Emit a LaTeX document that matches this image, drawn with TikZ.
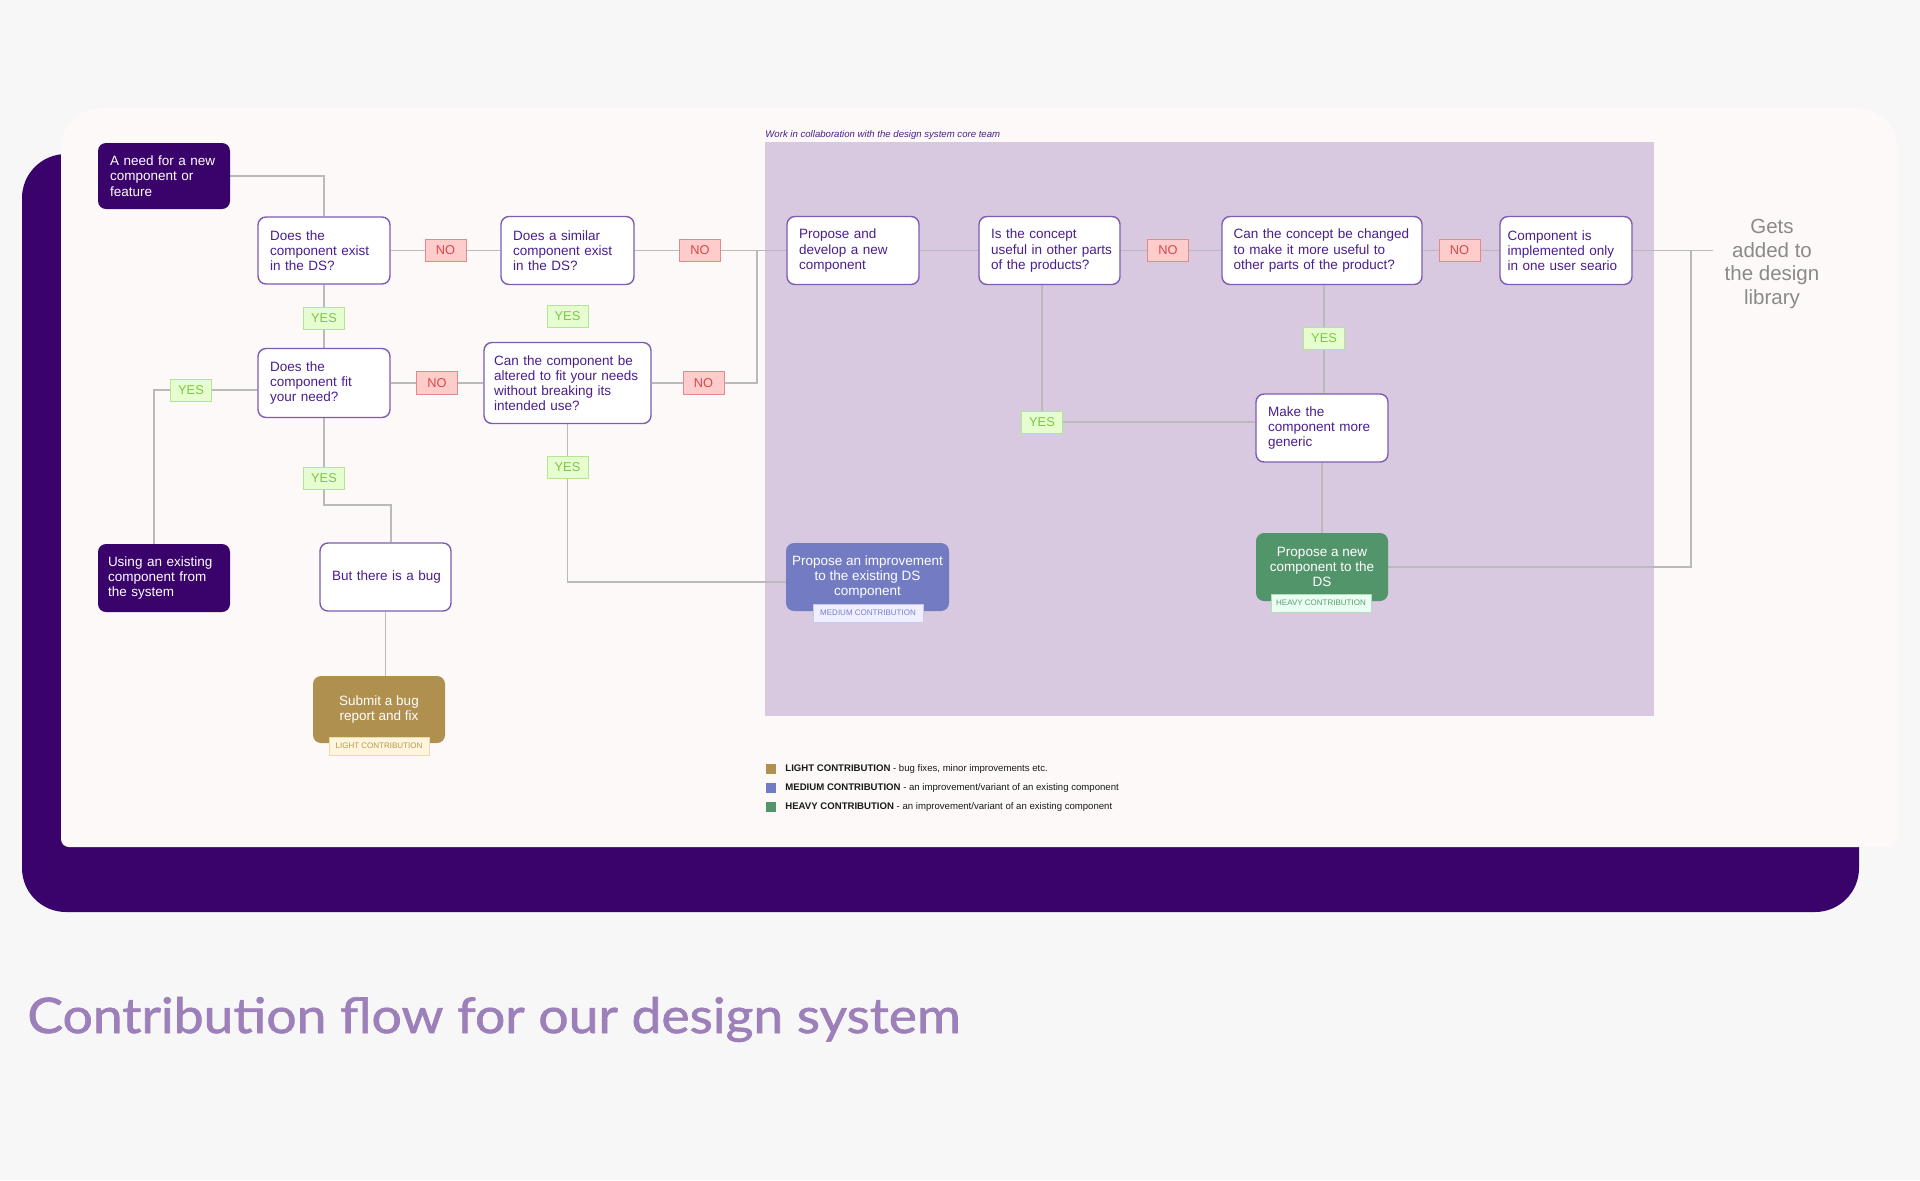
\documentclass[tikz,border=0pt]{standalone}
\usepackage{fontspec}
\setmainfont{Liberation Sans}
\newfontfamily\latofont[FakeBold=1.4,FakeStretch=1.09]{Lato}
\pgfdeclarelayer{bg}
\pgfsetlayers{bg,main}
\definecolor{bgc}{HTML}{F7F7F7}
\definecolor{cardc}{HTML}{FDF9F8}
\definecolor{dpurple}{HTML}{3A036C}
\definecolor{regc}{HTML}{D8C9E0}
\definecolor{boxbd}{HTML}{7D5CB3}
\definecolor{boxtx}{HTML}{4A1E8C}
\definecolor{linec}{HTML}{BABABA}
\definecolor{nofill}{HTML}{FFCCCC}
\definecolor{nobd}{HTML}{E28A8A}
\definecolor{notx}{HTML}{D84848}
\definecolor{yesfill}{HTML}{E6FDD0}
\definecolor{yesbd}{HTML}{B4E592}
\definecolor{yestx}{HTML}{7CC645}
\definecolor{goldc}{HTML}{B0904F}
\definecolor{medc}{HTML}{737CC3}
\definecolor{heavyc}{HTML}{53956B}
\definecolor{getsc}{HTML}{8A8A8A}
\definecolor{titlec}{HTML}{9D80BA}
\definecolor{legc}{HTML}{1A1A1A}
\definecolor{tag1f}{HTML}{FFF5DD}
\definecolor{tag1d}{HTML}{EADBA8}
\definecolor{tag1t}{HTML}{B59650}
\definecolor{tag2f}{HTML}{EFEFFF}
\definecolor{tag2d}{HTML}{C5C9F0}
\definecolor{tag2t}{HTML}{7880C8}
\definecolor{tag3f}{HTML}{EAFFF1}
\definecolor{tag3d}{HTML}{B3DDC0}
\definecolor{tag3t}{HTML}{5B9C72}
\newcommand\boxfont{\fontsize{6.75pt}{7.6pt}\selectfont}
\newcommand\lblfont{\fontsize{6.4pt}{7pt}\selectfont}
\newcommand\tagfont{\fontsize{4pt}{4.5pt}\selectfont}
\newcommand\legfont{\fontsize{4.8pt}{5.3pt}\selectfont}
\newcommand\getsfont{\fontsize{10.25pt}{11.75pt}\selectfont}
\newcommand\titlefont{\latofont\fontsize{24.5pt}{28pt}\selectfont}
\newcommand\bxl[1]{\mbox{#1}}
\begin{document}
\begin{tikzpicture}[x=0.5pt,y=-0.5pt,
  conn/.style={draw=linec,line width=0.8pt},
  qbox/.style={draw=boxbd,fill=white,line width=0.7pt,rounded corners=4pt,text=boxtx,align=left,font=\boxfont,inner xsep=6pt,inner ysep=0pt},
  darkbox/.style={fill=dpurple,rounded corners=4pt,text=white,align=left,font=\boxfont,inner xsep=6pt,inner ysep=0pt},
  nolab/.style={draw=nobd,fill=nofill,text=notx,font=\lblfont,minimum width=20.5pt,minimum height=11.25pt,inner sep=0pt,line width=0.5pt},
  yeslab/.style={draw=yesbd,fill=yesfill,text=yestx,font=\lblfont,minimum width=20.5pt,minimum height=11pt,inner sep=0pt,line width=0.5pt},
  actbox/.style={rounded corners=4pt,text=white,align=center,font=\boxfont,inner sep=0pt},
  tagbox/.style={font=\tagfont,inner sep=0pt,minimum height=9pt,line width=0.4pt},
  legsq/.style={minimum size=5pt,inner sep=0pt},
  legtxt/.style={anchor=west,inner sep=0pt,font=\legfont,text=legc},
]
\begin{pgfonlayer}{bg}
\fill[bgc] (0,0) rectangle (1920,1180);
\fill[dpurple,rounded corners=22pt] (22,154) rectangle (1859,912);
\fill[cardc] (61,480) [rounded corners=20pt] -- (61,108) -- (1897,108) -- (1897,480) [rounded corners=4pt] -- (1897,847) -- (61,847) -- cycle;
\fill[regc] (765,142) rectangle (1654,716);
\end{pgfonlayer}
\useasboundingbox (0,0) rectangle (1920,1180);

\node[anchor=base west,inner sep=0pt,font=\fontsize{4.8pt}{5.3pt}\selectfont\itshape,text=boxtx] (reglabel) at (765,137) {Work in collaboration with the design system core team};

% row 1
\node[darkbox,text width=54pt,minimum height=33pt] (need) at (164,176) {\bxl{A need for a new}\\\bxl{component or}\\\bxl{feature}};
\node[qbox,text width=54pt,minimum height=33.5pt] (exist) at (324,250.5) {\bxl{Does the}\\\bxl{component exist}\\\bxl{in the DS?}};
\node[nolab] (no1) at (445.5,250.5) {NO};
\node[qbox,text width=54.5pt,minimum height=34pt] (similar) at (567.5,250.5) {\bxl{Does a similar}\\\bxl{component exist}\\\bxl{in the DS?}};
\node[nolab] (no2) at (700,250.5) {NO};
\node[qbox,text width=54pt,minimum height=34pt] (propose) at (853,250.5) {\bxl{Propose and}\\\bxl{develop a new}\\\bxl{component}};
\node[qbox,text width=58.5pt,minimum height=34pt] (useful) at (1049.5,250.5) {\bxl{Is the concept}\\\bxl{useful in other parts}\\\bxl{of the products?}};
\node[nolab] (no3) at (1168,250.5) {NO};
\node[qbox,text width=88.5pt,inner xsep=5.75pt,minimum height=34pt] (changed) at (1322,250.5) {\bxl{Can the concept be changed}\\\bxl{to make it more useful to}\\\bxl{other parts of the product?}};
\node[nolab] (no4) at (1459.5,250.5) {NO};
\node[qbox,text width=58.5pt,inner xsep=3.75pt,minimum height=34pt] (onlyone) at (1566,250.5) {\bxl{Component is}\\\bxl{implemented only}\\\bxl{in one user seario}};
\node[font=\getsfont,text=getsc,align=center,inner sep=0pt] (gets) at (1772,264) {Gets\\added to\\the design\\library};
\coordinate (gend) at (1713,250.5);
\coordinate (jr) at (1691,250.5);
\coordinate (jl) at (757,250.5);

% row 2
\node[yeslab] (yes1) at (324,318) {YES};
\node[yeslab] (yes2) at (567.5,316) {YES};
\node[qbox,text width=54pt,minimum height=34.5pt] (fit) at (324,383) {\bxl{Does the}\\\bxl{component fit}\\\bxl{your need?}};
\node[nolab] (no5) at (437,383) {NO};
\node[qbox,text width=73.5pt,inner xsep=5pt,minimum height=40.5pt] (alter) at (567.5,383) {\bxl{Can the component be}\\\bxl{altered to fit your needs}\\\bxl{without breaking its}\\\bxl{intended use?}};
\node[nolab] (no6) at (703.5,383) {NO};
\node[yeslab] (yes3) at (191,390) {YES};
\coordinate (c22) at (154,545);
\node[yeslab] (yes4) at (324,478) {YES};
\coordinate (b1) at (324,505);
\coordinate (b2) at (391,505);
\node[yeslab] (yes5) at (567.5,467) {YES};
\coordinate (m1) at (787,582);

% lower
\node[darkbox,text width=56pt,inner xsep=5pt,minimum height=34pt] (using) at (164,578) {\bxl{Using an existing}\\\bxl{component from}\\\bxl{the system}};
\node[qbox,align=center,text width=53.5pt,minimum height=34pt] (bug) at (385.5,577) {\bxl{But there is a bug}};
\node[actbox,fill=goldc,minimum width=66pt,minimum height=33.5pt] (submit) at (379,709.5) {Submit a bug\\report and fix};
\node[tagbox,fill=tag1f,draw=tag1d,text=tag1t,minimum width=50pt] (tag1) at (379,746) {LIGHT CONTRIBUTION};
\node[actbox,fill=medc,minimum width=81.5pt,minimum height=34pt] (improve) at (867.5,577) {Propose an improvement\\to the existing DS\\component};
\node[tagbox,fill=tag2f,draw=tag2d,text=tag2t,minimum width=55pt] (tag2) at (868,613) {MEDIUM CONTRIBUTION};
\node[yeslab] (yes6) at (1042,422) {YES};
\node[qbox,text width=54pt,minimum height=34pt] (generic) at (1322,428) {\bxl{Make the}\\\bxl{component more}\\\bxl{generic}};
\node[yeslab] (yes7) at (1324,338.5) {YES};
\node[actbox,fill=heavyc,minimum width=66pt,minimum height=34pt] (newds) at (1322,567) {Propose a new\\component to the\\DS};
\node[tagbox,fill=tag3f,draw=tag3d,text=tag3t,minimum width=50pt] (tag3) at (1321,603) {HEAVY CONTRIBUTION};

% legend
\node[legsq,fill=goldc] (lq1) at (770.5,769) {};
\node[legtxt] (lt1) at (785,769) {\textbf{LIGHT CONTRIBUTION} - bug fixes, minor improvements etc.};
\node[legsq,fill=medc] (lq2) at (770.5,788) {};
\node[legtxt] (lt2) at (785,788) {\textbf{MEDIUM CONTRIBUTION} - an improvement/variant of an existing component};
\node[legsq,fill=heavyc] (lq3) at (770.5,806.5) {};
\node[legtxt] (lt3) at (785,806.5) {\textbf{HEAVY CONTRIBUTION} - an improvement/variant of an existing component};

% title
\node[anchor=base west,inner sep=0pt,font=\titlefont,text=titlec] (title) at (27,1033) {Contribution flow for our design system};

% connectors
\begin{pgfonlayer}{bg}
\draw[conn] (need.east) -| (exist.north);
\draw[conn] (exist) -- (no1) -- (similar) -- (no2) -- (propose);
\draw[conn] (no6.east) -| (jl);
\draw[conn] (propose) -- (useful) -- (no3) -- (changed) -- (no4) -- (onlyone);
\draw[conn] (onlyone.east) -- (gend);
\draw[conn] (newds.east) -| (jr);
\draw[conn] (exist) -- (yes1) -- (fit);
\draw[conn] (fit) -- (no5) -- (alter) -- (no6);
\draw[conn] (fit.west |- yes3) -- (yes3.east);
\draw[conn] (yes3.west) -| (c22);
\draw[conn] (fit) -- (yes4);
\draw[conn] (yes4.south) -- (b1) -- (b2) -- (b2 |- bug.north);
\draw[conn] (bug.south) -- (bug.south |- submit.north);
\draw[conn] (alter) -- (yes5);
\draw[conn] (yes5.south) |- (m1);
\draw[conn] (useful.south -| yes6) -- (yes6);
\draw[conn] (yes6.east) -- (generic.west |- yes6);
\draw[conn] (changed.south -| yes7) -- (yes7) -- (generic.north -| yes7);
\draw[conn] (generic) -- (newds);
\end{pgfonlayer}
\end{tikzpicture}
\end{document}
